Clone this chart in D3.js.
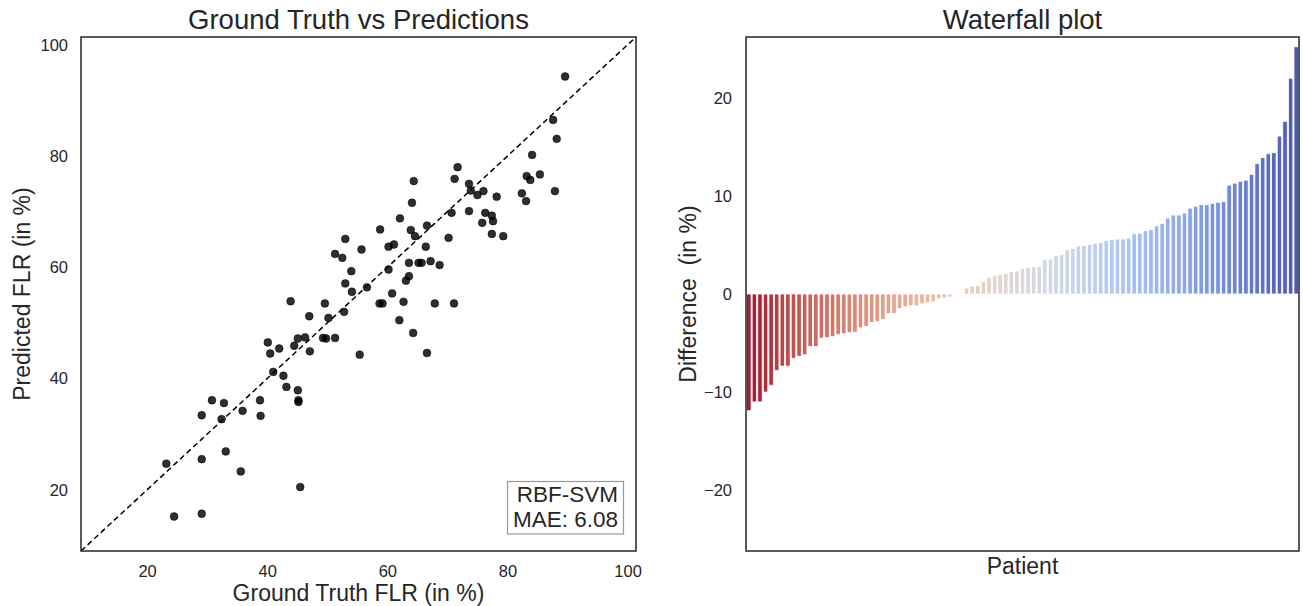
<!DOCTYPE html>
<html>
<head>
<meta charset="utf-8">
<script src="https://cdn.jsdelivr.net/npm/d3@7"></script>
<style>
    body { margin: 0; background: #fff; }
    text { font-family: "Liberation Sans", Arial, sans-serif; fill: #262626; }
</style>
</head>
<body>
<div id="plot-container"></div>
<script>
// ground truth vs predicted FLR (in %)
const groundTruth = [89.6, 87.6, 88.2, 84.1, 71.7, 64.4, 71.2, 73.6, 73.9, 75.0, 76.0, 78.2, 83.2, 83.8, 85.4, 82.4,
    83.1, 87.9, 64.1, 70.7, 73.6, 76.3, 77.4, 77.6, 75.8, 77.4, 79.3, 62.1, 58.8, 63.9, 64.6, 66.6, 70.2, 53.0,
    55.7, 60.2, 61.1, 66.4, 52.5, 51.3, 54.0, 60.2, 63.6, 65.2, 65.7, 67.2, 68.7, 63.6, 63.1, 53.0, 54.1, 56.6,
    60.8, 43.9, 49.6, 47.0, 50.2, 52.8, 40.1, 42.0, 40.5, 44.5, 45.1, 46.3, 47.1, 49.3, 49.8, 51.3, 55.4, 41.0,
    42.7, 43.2, 45.1, 45.2, 45.2, 30.8, 32.8, 29.1, 32.4, 35.9, 38.8, 38.9, 23.2, 29.1, 33.1, 35.6, 45.5, 24.5,
    29.1, 58.7, 59.2, 62.7, 67.9, 71.1, 62.0, 64.3, 66.6];
const predicted = [94.3, 86.5, 83.1, 80.2, 78.0, 75.5, 75.9, 75.0, 73.8, 73.0, 73.7, 72.7, 76.4, 75.7, 76.7, 73.3,
    71.9, 73.7, 71.6, 69.8, 70.1, 69.8, 69.3, 68.3, 68.0, 66.0, 65.6, 68.8, 66.8, 66.7, 65.6, 67.5, 65.3, 65.1,
    63.2, 63.7, 64.1, 63.7, 61.7, 62.4, 59.3, 59.6, 60.8, 60.8, 60.8, 61.1, 60.4, 58.4, 57.6, 57.1, 55.6, 56.4,
    55.3, 53.9, 53.5, 51.2, 50.9, 52.0, 46.5, 45.4, 44.5, 45.9, 47.2, 47.4, 44.9, 47.3, 47.2, 47.3, 44.3, 41.2,
    40.5, 38.5, 37.9, 36.1, 35.8, 36.1, 35.6, 33.4, 32.7, 34.2, 36.1, 33.3, 24.7, 25.5, 26.9, 23.3, 20.5, 15.2,
    15.7, 53.5, 53.5, 53.8, 53.5, 53.5, 50.5, 48.2, 44.6];
const scatterTicks = [20, 40, 60, 80, 100];
const modelName = "RBF-SVM";
const maeText = "MAE: 6.08";

// sorted differences per patient (in %)
const differences = [-11.9, -11.0, -11.0, -10.0, -9.3, -7.8, -7.35, -7.35, -6.55, -6.35, -6.2, -5.35, -5.35,
    -4.5, -4.45, -4.35, -4.15, -4.05, -3.95, -3.9, -3.45, -3.3, -2.9, -2.8, -2.6, -2.0, -2.0, -1.5, -1.3, -1.2,
    -1.2, -1.0, -0.9, -0.8, -0.5, -0.4, -0.3, -0.05, 0.05,
    0.6, 0.8, 0.85, 1.25, 1.7, 1.9, 2.0, 2.1, 2.25, 2.35, 2.6, 2.7, 2.75, 2.8, 3.5, 3.55, 3.9, 4.0, 4.5, 4.65,
    4.9, 4.95, 5.05, 5.15, 5.25, 5.45, 5.55, 5.6, 5.6, 5.7, 6.15, 6.2, 6.45, 6.55, 6.95, 7.2, 7.75, 8.05, 8.05,
    8.25, 8.75, 8.95, 9.1, 9.1, 9.25, 9.35, 9.4, 11.1, 11.3, 11.5, 11.6, 12.2, 13.3, 13.9, 14.3, 14.4, 16.1,
    17.6, 22.0, 25.2];
const diffTicks = [-20, -10, 0, 10, 20];

const W = 1303, H = 606;
const left = { x0: 81, x1: 636, y0: 37, y1: 551 };
const right = { x0: 746, x1: 1299, y0: 37, y1: 551 };

const svg = d3.select("#plot-container")
    .append("svg")
    .attr("width", W)
    .attr("height", H);

// ---------- scatter ----------
const lim = [9, 101.4];
const xScale = d3.scaleLinear().domain(lim).range([left.x0, left.x1]);
const yScale = d3.scaleLinear().domain(lim).range([left.y1, left.y0]);

svg.append("line")
    .attr("x1", xScale(lim[0])).attr("y1", yScale(lim[0]))
    .attr("x2", xScale(lim[1])).attr("y2", yScale(lim[1]))
    .attr("stroke", "#000")
    .attr("stroke-width", 1.5)
    .attr("stroke-dasharray", "5.5,3.5");

svg.append("g")
    .selectAll("circle")
    .data(groundTruth.map((d, i) => ({ x: d, y: predicted[i] })))
    .enter()
    .append("circle")
    .attr("cx", d => xScale(d.x))
    .attr("cy", d => yScale(d.y))
    .attr("r", 3.9)
    .attr("fill", "#000")
    .attr("fill-opacity", 0.82)
    .attr("stroke", "#000")
    .attr("stroke-opacity", 0.82)
    .attr("stroke-width", 0.6);

svg.append("g")
    .attr("transform", "translate(0," + left.y1 + ")")
    .call(d3.axisBottom(xScale).tickValues(scatterTicks).tickSize(0).tickPadding(14))
    .call(g => g.select(".domain").remove())
    .selectAll("text")
    .style("font-size", "16.5px")
    .style("font-family", "Liberation Sans, Arial, sans-serif")
    .attr("fill", "#262626");

svg.append("g")
    .attr("transform", "translate(" + left.x0 + ",0)")
    .call(d3.axisLeft(yScale).tickValues(scatterTicks).tickSize(0).tickPadding(13))
    .call(g => g.select(".domain").remove())
    .selectAll("text")
    .style("font-size", "16.5px")
    .style("font-family", "Liberation Sans, Arial, sans-serif")
    .attr("fill", "#262626");

svg.append("rect")
    .attr("x", left.x0).attr("y", left.y0)
    .attr("width", left.x1 - left.x0).attr("height", left.y1 - left.y0)
    .attr("fill", "none")
    .attr("stroke", "#262626")
    .attr("stroke-width", 1.5);

// legend-like text box
svg.append("rect")
    .attr("x", 507.5).attr("y", 481.5)
    .attr("width", 116).attr("height", 52.5)
    .attr("fill", "#fff")
    .attr("stroke", "#999")
    .attr("stroke-width", 1.2);

svg.append("text")
    .attr("x", 618).attr("y", 502)
    .attr("text-anchor", "end")
    .style("font-size", "22.5px")
    .text(modelName);

svg.append("text")
    .attr("x", 618).attr("y", 527)
    .attr("text-anchor", "end")
    .style("font-size", "22.5px")
    .text(maeText);

svg.append("text")
    .attr("x", (left.x0 + left.x1) / 2)
    .attr("y", 29)
    .attr("text-anchor", "middle")
    .style("font-size", "27.5px")
    .text("Ground Truth vs Predictions");

svg.append("text")
    .attr("x", (left.x0 + left.x1) / 2)
    .attr("y", 601)
    .attr("text-anchor", "middle")
    .style("font-size", "23px")
    .text("Ground Truth FLR (in %)");

svg.append("text")
    .attr("transform", "translate(30," + ((left.y0 + left.y1) / 2) + ") rotate(-90)")
    .attr("text-anchor", "middle")
    .style("font-size", "23px")
    .text("Predicted FLR (in %)");

// ---------- waterfall ----------
const bScale = d3.scaleBand()
    .domain(differences.map((d, i) => i))
    .range([right.x0, right.x1])
    .paddingInner(0.2)
    .paddingOuter(0.1);

const dScale = d3.scaleLinear()
    .domain([-26.2, 26.2])
    .range([right.y1, right.y0]);

// coolwarm, reversed so the first (most negative) bar is red;
// seaborn bars are drawn at 0.75 saturation
const coolwarm = d3.interpolateRgbBasis(["#3b4cc0", "#5977e3", "#7b9ff9", "#9ebeff", "#c0d4f5", "#dddcdc",
    "#f2cbb7", "#f7ac8e", "#ee8468", "#d65244", "#b40426"]);
const n = differences.length;
const barColor = i => {
    const c = d3.hsl(coolwarm(1 - i / (n - 1)));
    c.s *= 0.75;
    return c.formatHex();
};

svg.append("g")
    .selectAll("rect")
    .data(differences)
    .enter()
    .append("rect")
    .attr("x", (d, i) => bScale(i))
    .attr("width", bScale.bandwidth())
    .attr("y", d => dScale(Math.max(0, d)))
    .attr("height", d => Math.abs(dScale(d) - dScale(0)))
    .attr("fill", (d, i) => barColor(i))
    .attr("stroke", "#fff")
    .attr("stroke-width", 0.8);

svg.append("g")
    .attr("transform", "translate(" + right.x0 + ",0)")
    .call(d3.axisLeft(dScale).tickValues(diffTicks).tickSize(0).tickPadding(14))
    .call(g => g.select(".domain").remove())
    .selectAll("text")
    .style("font-size", "16.5px")
    .style("font-family", "Liberation Sans, Arial, sans-serif")
    .attr("fill", "#262626");

svg.append("rect")
    .attr("x", right.x0).attr("y", right.y0)
    .attr("width", right.x1 - right.x0).attr("height", right.y1 - right.y0)
    .attr("fill", "none")
    .attr("stroke", "#262626")
    .attr("stroke-width", 1.5);

svg.append("text")
    .attr("x", (right.x0 + right.x1) / 2)
    .attr("y", 29)
    .attr("text-anchor", "middle")
    .style("font-size", "27.5px")
    .text("Waterfall plot");

svg.append("text")
    .attr("x", (right.x0 + right.x1) / 2)
    .attr("y", 574)
    .attr("text-anchor", "middle")
    .style("font-size", "23px")
    .text("Patient");

svg.append("text")
    .attr("transform", "translate(696," + ((right.y0 + right.y1) / 2) + ") rotate(-90)")
    .attr("text-anchor", "middle")
    .style("font-size", "23px")
    .style("white-space", "pre")
    .text("Difference  (in %)");
</script>
</body>
</html>
